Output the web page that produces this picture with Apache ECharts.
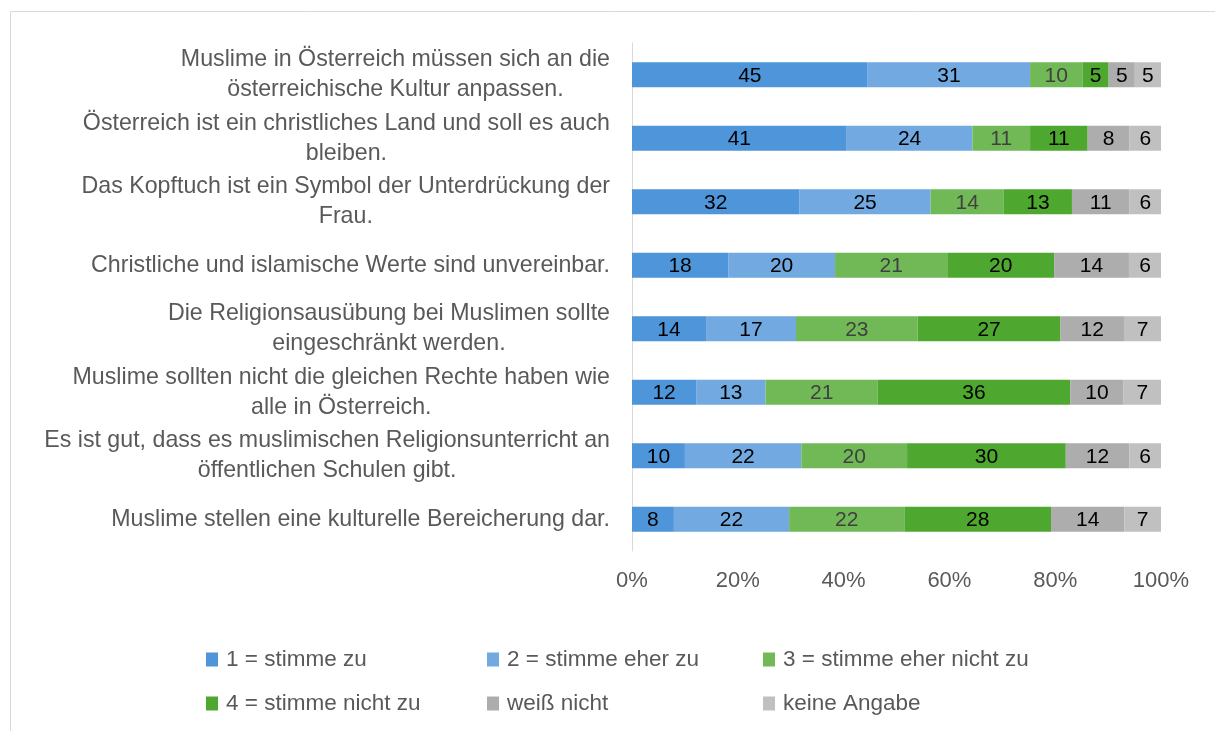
<!DOCTYPE html>
<html>
<head>
<meta charset="utf-8">
<script src="https://cdn.jsdelivr.net/npm/echarts@6/dist/echarts.min.js"></script>
<style>
  html, body { margin: 0; padding: 0; background: #fff; }
  #chart { width: 1215px; height: 731px; }
</style>
</head>
<body>
<div id="chart"></div>
<script>
// Aussagen (von oben nach unten)
const statements = [
  "Muslime in Österreich müssen sich an die\nösterreichische Kultur anpassen.",
  "Österreich ist ein christliches Land und soll es auch\nbleiben.",
  "Das Kopftuch ist ein Symbol der Unterdrückung der\nFrau.",
  "Christliche und islamische Werte sind unvereinbar.",
  "Die Religionsausübung bei Muslimen sollte\neingeschränkt werden.",
  "Muslime sollten nicht die gleichen Rechte haben wie\nalle in Österreich.",
  "Es ist gut, dass es muslimischen Religionsunterricht an\nöffentlichen Schulen gibt.",
  "Muslime stellen eine kulturelle Bereicherung dar."
];

const seriesNames = [
  "1 = stimme zu",
  "2 = stimme eher zu",
  "3 = stimme eher nicht zu",
  "4 = stimme nicht zu",
  "weiß nicht",
  "keine Angabe"
];

// Werte in Prozent je Aussage
const stimmeZu        = [45, 41, 32, 18, 14, 12, 10, 8];
const stimmeEherZu    = [31, 24, 25, 20, 17, 13, 22, 22];
const eherNichtZu     = [10, 11, 14, 21, 23, 21, 20, 22];
const stimmeNichtZu   = [5, 11, 13, 20, 27, 36, 30, 28];
const weissNicht      = [5, 8, 11, 14, 12, 10, 12, 14];
const keineAngabe     = [5, 6, 6, 6, 7, 7, 6, 7];

const xTicks = [0, 20, 40, 60, 80, 100];

const colors = ["#4e95d9", "#71a9e0", "#71b957", "#4ea72e", "#adadad", "#c0c0c0"];
const labelColors = ["#000", "#000", "#404040", "#000", "#000", "#000"];

const raw = [stimmeZu, stimmeEherZu, eherNichtZu, stimmeNichtZu, weissNicht, keineAngabe];
// 100%-gestapelt: jede Zeile auf ihre Summe normieren
const rowSums = statements.map((_, i) => raw.reduce((s, arr) => s + arr[i], 0));

const FONT = "'Liberation Sans', Arial, sans-serif";

const series = raw.map((arr, k) => ({
  name: seriesNames[k],
  type: "bar",
  stack: "all",
  barWidth: 25,
  itemStyle: { color: colors[k] },
  data: arr.map((v, i) => ({ value: v / rowSums[i] * 100, raw: v })),
  label: {
    show: true,
    position: "inside",
    color: labelColors[k],
    fontFamily: FONT,
    fontSize: 21,
    offset: [0, 1],
    formatter: (p) => p.data.raw
  }
}));

// Legende: eine Komponente pro Eintrag, 3 Spalten x 2 Zeilen
const legendX = [206, 487, 763];
const legendY = [648, 692];
const legends = seriesNames.map((name, k) => ({
  data: [name],
  left: legendX[k % 3],
  top: legendY[Math.floor(k / 3)],
  padding: 0,
  itemWidth: 12,
  itemHeight: 14,
  itemGap: 0,
  icon: "rect",
  selectedMode: false,
  textStyle: { color: "#595959", fontSize: 22.5, fontFamily: FONT, padding: [0, 0, 0, 3] }
}));

const chart = echarts.init(document.getElementById("chart"), null, { renderer: "canvas" });
chart.setOption({
  animation: false,
  backgroundColor: "#fff",
  graphic: [{
    type: "rect",
    shape: { x: 10.5, y: 11.5, width: 1300, height: 800 },
    style: { fill: null, stroke: "#d9d9d9", lineWidth: 1 },
    silent: true,
    z: -1
  }],
  legend: legends,
  grid: { left: 632, right: 54, top: 43, height: 508 },
  xAxis: {
    type: "value",
    min: xTicks[0],
    max: xTicks[xTicks.length - 1],
    interval: 20,
    axisLine: { show: false },
    axisTick: { show: false },
    splitLine: { show: false },
    axisLabel: {
      color: "#595959",
      fontSize: 22,
      fontFamily: FONT,
      margin: 19,
      formatter: "{value}%"
    }
  },
  yAxis: {
    type: "category",
    inverse: true,
    data: statements,
    axisLine: { show: true, lineStyle: { color: "#d9d9d9", width: 1 } },
    axisTick: { show: false },
    axisLabel: {
      margin: 22,
      align: "right",
      formatter: (v) => v.split("\n").map((l) => "{c|" + l + "}").join("\n"),
      rich: {
        c: {
          align: "center",
          color: "#595959",
          fontSize: 23.2,
          fontFamily: FONT,
          lineHeight: 30
        }
      }
    }
  },
  series: series
});
</script>
</body>
</html>
